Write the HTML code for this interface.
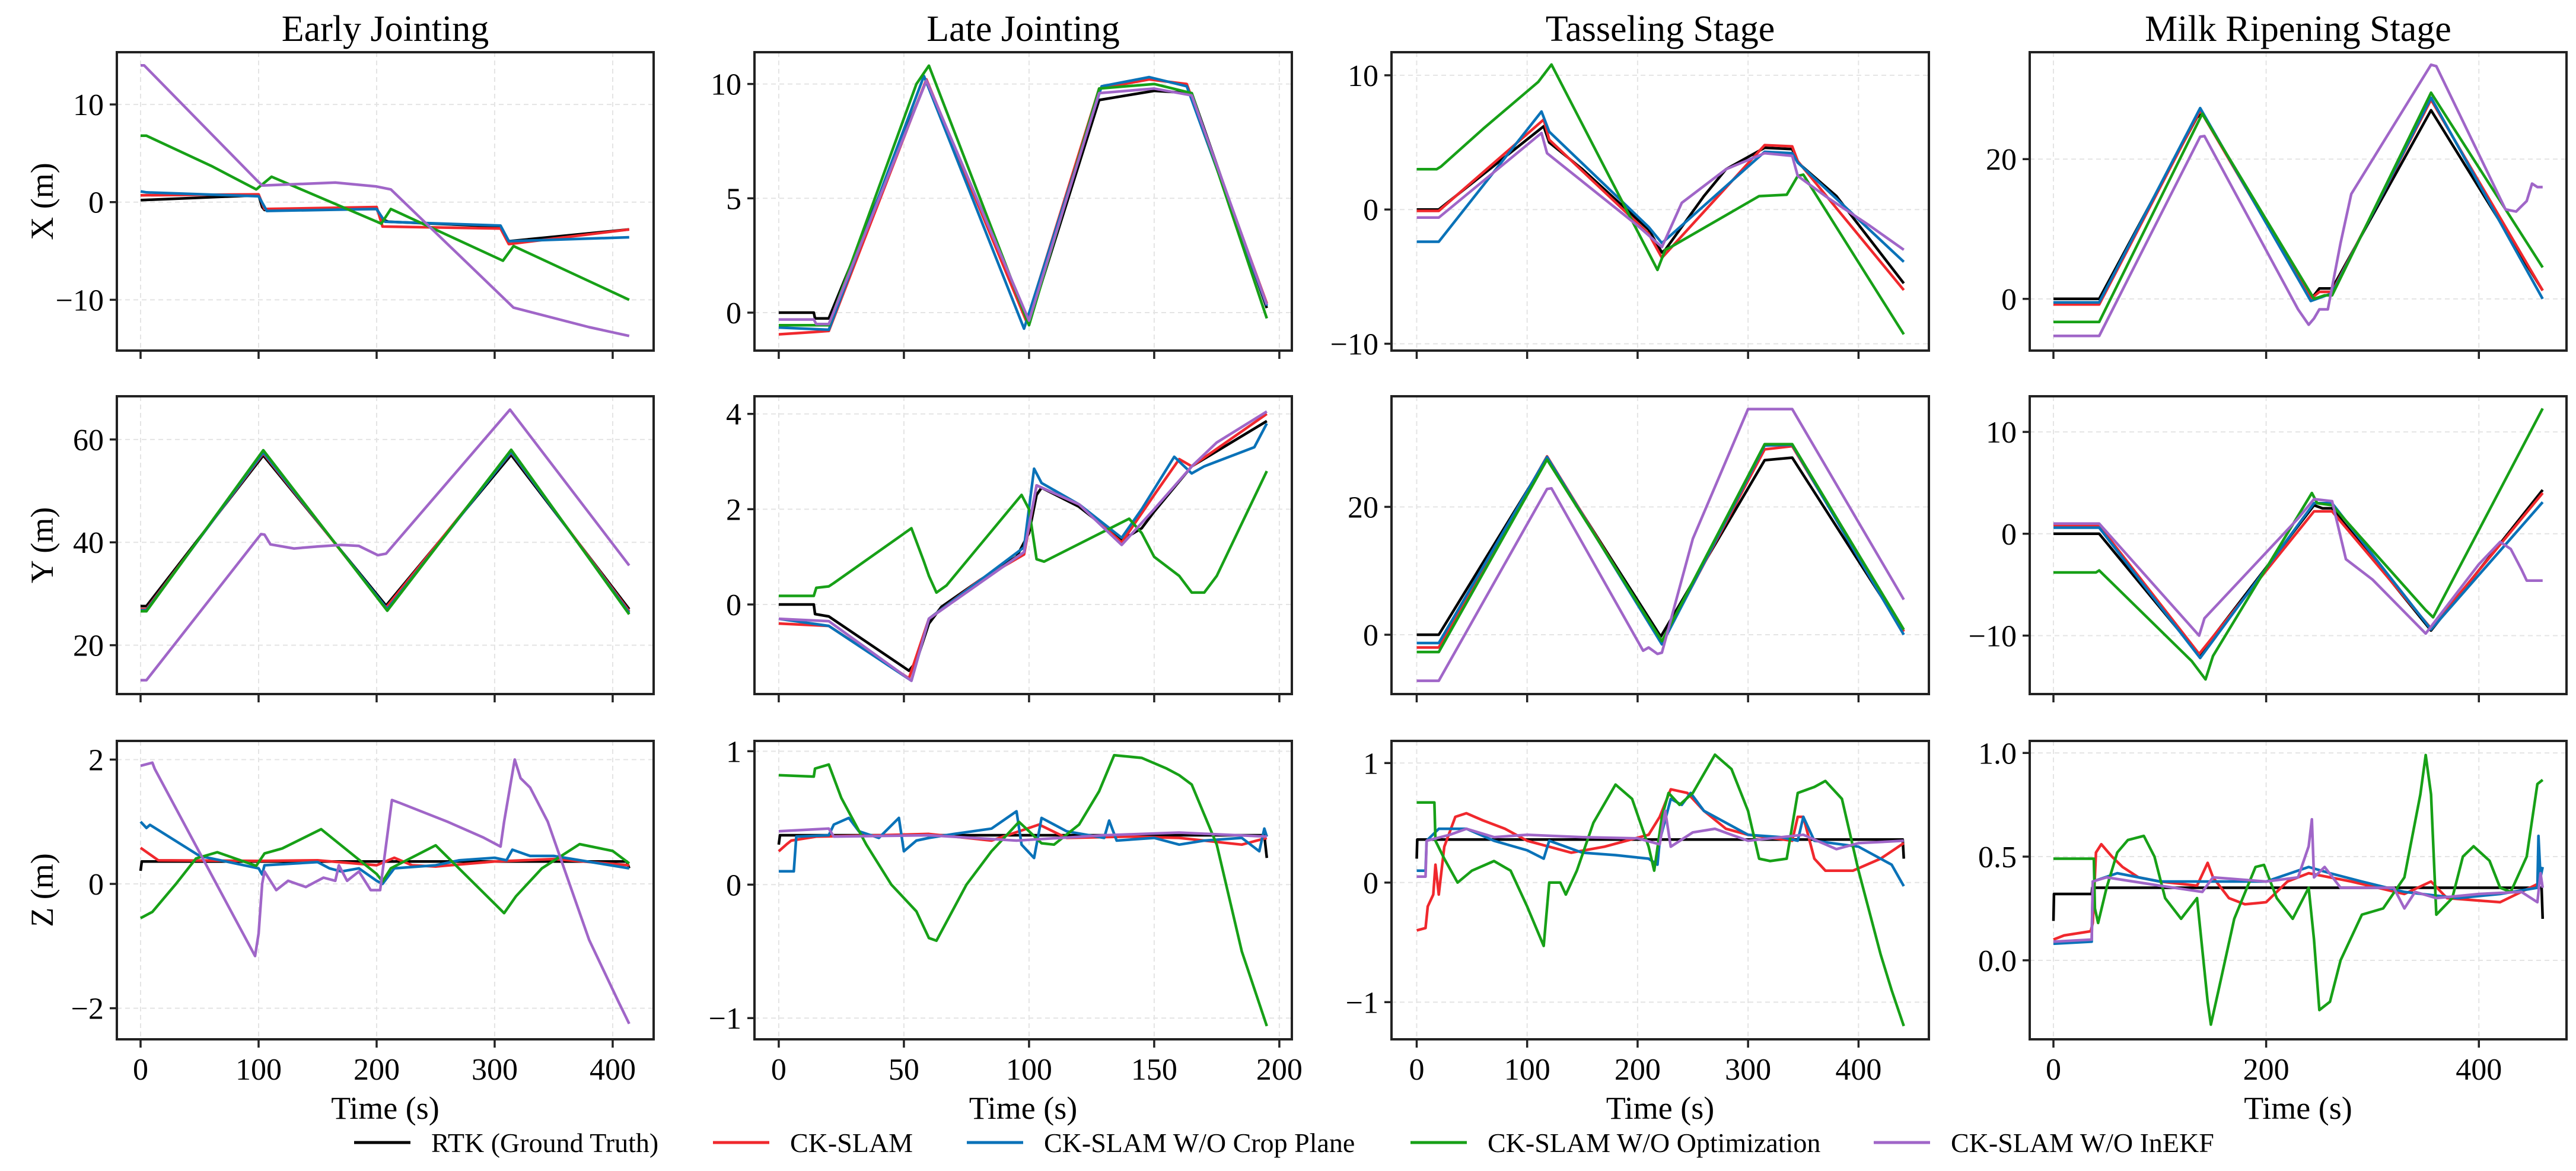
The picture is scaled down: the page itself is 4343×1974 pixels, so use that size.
<!DOCTYPE html>
<html><head><meta charset="utf-8"><style>
html,body{margin:0;padding:0;background:#fff;}
svg{display:block;}
svg text{font-family:"Liberation Serif","DejaVu Serif",serif;}
</style></head><body>
<svg id="fig" width="4343" height="1974" viewBox="0 0 4343 1974" xmlns="http://www.w3.org/2000/svg" font-family="Liberation Serif, DejaVu Serif, serif"></svg>
<script>
// ---------- Early Jointing ----------
const ejX_rtk_t=[0,100,103,105,200,205,210,305,312,414];
const ejX_rtk_v=[0.2,0.7,-0.5,-0.8,-0.7,-1.8,-2.0,-2.5,-4.0,-2.8];
const ejX_red_t=[0,100,105,200,205,305,312,414];
const ejX_red_v=[0.7,0.8,-0.7,-0.5,-2.5,-2.7,-4.3,-2.8];
const ejX_blu_t=[0,5,100,107,200,207,305,312,414];
const ejX_blu_v=[1.1,1.0,0.6,-0.9,-0.7,-2.0,-2.4,-4.0,-3.6];
const ejX_grn_t=[0,5,60,98,111,204,212,307,316,414];
const ejX_grn_v=[6.8,6.8,3.7,1.3,2.6,-2.2,-0.7,-6.0,-4.5,-10.0];
const ejX_pur_t=[0,3,98,103,165,200,212,316,380,414];
const ejX_pur_v=[14.0,14.0,2.3,1.7,2.0,1.6,1.3,-10.8,-12.8,-13.7];

const ejY_rtk_t=[0,5,104,208,314,414];
const ejY_rtk_v=[27.6,27.6,56.9,27.7,57.0,27.0];
const ejY_red_t=[0,5,104,208,314,414];
const ejY_red_v=[27.0,27.0,57.3,27.3,57.5,26.6];
const ejY_blu_t=[0,5,104,209,314,414];
const ejY_blu_v=[26.8,26.8,57.5,27.0,57.6,26.3];
const ejY_grn_t=[0,5,104,209,314,414];
const ejY_grn_v=[26.6,26.6,57.9,26.7,58.0,26.0];
const ejY_pur_t=[0,5,102,105,110,130,150,170,185,201,208,313,414];
const ejY_pur_v=[13.2,13.2,41.6,41.5,39.6,38.8,39.2,39.5,39.3,37.5,37.8,65.8,35.5];

const ejZ_rtk_t=[0,1,412,414];
const ejZ_rtk_v=[0.21,0.36,0.36,0.25];
const ejZ_red_t=[0,15,100,150,200,215,230,250,300,350,414];
const ejZ_red_v=[0.58,0.38,0.37,0.38,0.3,0.42,0.3,0.28,0.36,0.4,0.3];
const ejZ_blu_t=[0,5,8,50,100,103,105,150,160,170,185,200,205,215,250,270,300,310,315,330,350,414];
const ejZ_blu_v=[1.0,0.9,0.95,0.45,0.25,0.15,0.3,0.35,0.25,0.2,0.25,0.05,0.0,0.25,0.3,0.38,0.42,0.38,0.55,0.45,0.45,0.25];
const ejZ_grn_t=[0,10,30,47,65,98,105,120,153,200,205,212,250,308,318,340,372,400,414];
const ejZ_grn_v=[-0.55,-0.45,0.0,0.41,0.51,0.29,0.49,0.57,0.88,0.16,0.04,0.25,0.62,-0.47,-0.2,0.25,0.64,0.53,0.33];
const ejZ_pur_t=[0,10,12,97,100,103,105,115,125,140,155,165,168,175,185,195,203,213,220,260,290,305,308,317,322,330,345,380,405,414];
const ejZ_pur_v=[1.9,1.95,1.85,-1.16,-0.8,0.0,0.2,-0.1,0.05,-0.05,0.1,0.05,0.3,0.05,0.2,-0.1,-0.1,1.35,1.3,1.0,0.75,0.6,1.0,2.0,1.7,1.55,1.0,-0.9,-1.9,-2.25];

// ---------- Late Jointing ----------
const ljX_rtk_t=[0,14,14.5,20,59,98,101,128,150,165,195];
const ljX_rtk_v=[0.0,0.0,-0.25,-0.25,10.15,-0.1,-0.1,9.3,9.7,9.6,0.2];
const ljX_red_t=[0,14,20,59,99,128,148,163,195];
const ljX_red_v=[-0.95,-0.85,-0.8,10.2,-0.4,9.8,10.2,10.0,0.4];
const ljX_blu_t=[0,20,58,98,129,148,163,195];
const ljX_blu_v=[-0.65,-0.75,10.35,-0.7,9.9,10.3,9.9,0.3];
const ljX_grn_t=[0,20,55,60,100,128,150,165,195];
const ljX_grn_v=[-0.55,-0.55,10.0,10.8,-0.55,9.8,10.0,9.6,-0.25];
const ljX_pur_t=[0,14,15,20,59,100,128,150,165,195];
const ljX_pur_v=[-0.3,-0.3,-0.5,-0.5,10.15,-0.35,9.6,9.8,9.5,0.35];

const ljY_rtk_t=[0,14,14.5,20,52,55,60,65,80,95,100,103,105,120,137,145,150,165,195];
const ljY_rtk_v=[0.0,0.0,-0.2,-0.25,-1.39,-1.2,-0.4,-0.05,0.5,1.0,1.5,2.3,2.45,2.05,1.35,1.6,1.95,2.9,3.85];
const ljY_red_t=[0,20,52,60,80,98,103,120,137,150,160,165,195];
const ljY_red_v=[-0.4,-0.45,-1.55,-0.3,0.5,1.05,2.5,2.1,1.3,2.3,3.05,2.9,4.0];
const ljY_blu_t=[0,20,53,60,98,102,105,120,137,145,158,165,170,190,195];
const ljY_blu_v=[-0.3,-0.45,-1.6,-0.3,1.2,2.85,2.55,2.1,1.4,2.0,3.1,2.75,2.9,3.3,3.8];
const ljY_grn_t=[0,14,15,20,22,53,58,60,63,67,97,100,103,106,140,145,150,160,165,170,175,195];
const ljY_grn_v=[0.18,0.18,0.35,0.38,0.45,1.6,0.9,0.6,0.25,0.4,2.3,2.0,0.95,0.9,1.8,1.5,1.0,0.6,0.25,0.25,0.6,2.8];
const ljY_pur_t=[0,20,53,60,98,103,120,137,150,165,175,195];
const ljY_pur_v=[-0.3,-0.35,-1.6,-0.3,1.1,2.5,2.1,1.25,2.0,2.9,3.4,4.05];

const ljZ_rtk_t=[0,0.5,194,195];
const ljZ_rtk_v=[0.3,0.37,0.37,0.2];
const ljZ_red_t=[0,3,5,15,40,60,85,104,115,140,160,185,195];
const ljZ_red_v=[0.25,0.3,0.33,0.36,0.37,0.38,0.33,0.45,0.35,0.36,0.35,0.3,0.35];
const ljZ_blu_t=[0,6,7,20,22,28,32,40,48,50,55,60,70,85,95,97,102,105,110,115,130,132,135,150,160,170,185,192,194,195];
const ljZ_blu_v=[0.1,0.1,0.36,0.37,0.45,0.5,0.4,0.35,0.5,0.25,0.33,0.35,0.38,0.42,0.55,0.3,0.2,0.5,0.45,0.4,0.35,0.48,0.33,0.35,0.3,0.33,0.35,0.25,0.42,0.36];
const ljZ_grn_t=[0,14,14.5,20,25,35,45,55,60,63,75,85,96,100,105,110,120,128,134,145,155,160,165,175,185,195];
const ljZ_grn_v=[0.82,0.81,0.87,0.9,0.65,0.3,0.0,-0.2,-0.4,-0.42,0.0,0.25,0.47,0.4,0.31,0.3,0.45,0.7,0.97,0.95,0.87,0.82,0.75,0.3,-0.5,-1.06];
const ljZ_pur_t=[0,20,22,60,95,130,160,195];
const ljZ_pur_v=[0.4,0.42,0.36,0.37,0.33,0.37,0.39,0.36];

// ---------- Tasseling Stage ----------
const tsX_rtk_t=[0,20,115,120,150,210,222,225,260,280,315,340,345,380,441];
const tsX_rtk_v=[0.0,0.0,6.2,5.0,3.0,-1.5,-3.2,-3.0,1.0,3.0,4.6,4.5,3.5,1.0,-5.5];
const tsX_red_t=[0,20,115,120,210,222,315,340,345,441];
const tsX_red_v=[-0.1,-0.1,6.7,5.2,-1.8,-3.6,4.8,4.7,3.6,-6.0];
const tsX_blu_t=[0,20,113,120,210,222,315,340,345,441];
const tsX_blu_v=[-2.4,-2.4,7.3,5.8,-1.3,-2.5,4.3,4.2,3.5,-3.9];
const tsX_grn_t=[0,18,22,60,110,122,218,225,230,310,335,345,350,441];
const tsX_grn_v=[3.0,3.0,3.2,6.0,9.5,10.8,-4.5,-3.0,-2.8,1.0,1.1,2.5,2.6,-9.3];
const tsX_pur_t=[0,20,113,118,200,222,240,280,315,340,345,370,410,441];
const tsX_pur_v=[-0.6,-0.6,5.7,4.2,-1.2,-2.8,0.5,3.0,4.2,4.0,2.5,1.0,-1.2,-3.0];

const tsY_rtk_t=[0,20,118,221,315,340,441];
const tsY_rtk_v=[0.0,0.0,27.6,-0.3,27.3,27.7,0.5];
const tsY_red_t=[0,20,118,222,315,340,441];
const tsY_red_v=[-2.0,-2.0,27.9,-1.3,29.0,29.5,0.5];
const tsY_blu_t=[0,20,118,222,315,340,441];
const tsY_blu_v=[-1.3,-1.3,27.8,-1.5,29.6,29.7,0.0];
const tsY_grn_t=[0,20,118,222,315,340,441];
const tsY_grn_v=[-2.7,-2.7,27.4,-1.0,29.8,29.8,0.8];
const tsY_pur_t=[0,20,118,122,205,210,218,222,250,300,340,441];
const tsY_pur_v=[-7.2,-7.2,22.8,22.9,-2.5,-2.0,-3.0,-2.8,15.0,35.3,35.3,5.5];

const tsZ_rtk_t=[0,0.5,440,441];
const tsZ_rtk_v=[0.2,0.36,0.36,0.2];
const tsZ_red_t=[0,8,10,15,17,20,25,35,45,60,80,100,140,170,210,220,230,245,260,280,300,340,345,350,360,370,395,420,441];
const tsZ_red_v=[-0.4,-0.38,-0.2,-0.1,0.15,-0.1,0.3,0.55,0.58,0.52,0.45,0.35,0.25,0.3,0.4,0.55,0.78,0.75,0.6,0.45,0.4,0.35,0.55,0.55,0.2,0.1,0.1,0.2,0.33];
const tsZ_blu_t=[0,8,9,20,45,70,100,115,120,150,180,210,218,220,230,240,248,260,300,330,345,350,360,400,430,441];
const tsZ_blu_v=[0.1,0.1,0.35,0.45,0.45,0.35,0.27,0.2,0.35,0.25,0.23,0.2,0.15,0.35,0.7,0.65,0.75,0.6,0.4,0.38,0.35,0.55,0.35,0.3,0.15,-0.03];
const tsZ_grn_t=[0,16,17,25,37,50,70,85,100,115,120,130,135,145,160,180,195,210,215,222,228,238,250,270,285,300,310,320,335,345,360,370,385,400,420,430,441];
const tsZ_grn_v=[0.67,0.67,0.35,0.2,0.0,0.1,0.18,0.1,-0.2,-0.53,0.0,0.0,-0.1,0.1,0.5,0.82,0.7,0.3,0.1,0.55,0.75,0.65,0.75,1.07,0.95,0.6,0.2,0.18,0.2,0.75,0.8,0.85,0.7,0.1,-0.6,-0.9,-1.2];
const tsZ_pur_t=[0,8,9,30,45,70,100,150,200,220,225,230,250,270,300,350,380,400,441];
const tsZ_pur_v=[0.05,0.05,0.35,0.4,0.45,0.38,0.4,0.38,0.37,0.32,0.6,0.3,0.42,0.45,0.35,0.4,0.28,0.33,0.35];

// ---------- Milk Ripening Stage ----------
const mrX_rtk_t=[0,43,135,140,242,245,250,262,355,460];
const mrX_rtk_v=[0.0,0.0,26.0,26.5,0.2,0.5,1.5,1.5,27.0,1.2];
const mrX_red_t=[0,43,138,242,250,262,355,460];
const mrX_red_v=[-0.8,-0.8,27.0,0.0,1.0,1.0,28.5,1.2];
const mrX_blu_t=[0,43,138,242,262,355,460];
const mrX_blu_v=[-0.5,-0.5,27.3,-0.3,0.8,28.8,0.0];
const mrX_grn_t=[0,43,140,245,255,262,355,460];
const mrX_grn_v=[-3.3,-3.3,26.5,0.0,0.5,0.5,29.5,4.5];
const mrX_pur_t=[0,43,138,142,230,240,245,250,258,270,280,355,360,425,435,445,450,455,460];
const mrX_pur_v=[-5.3,-5.3,23.2,23.3,-1.5,-3.7,-2.8,-1.5,-1.5,8.0,15.0,33.5,33.3,12.8,12.5,14.0,16.5,16.0,16.0];

const mrY_rtk_t=[0,43,137,245,253,262,355,460];
const mrY_rtk_v=[0.0,0.0,-11.9,2.8,2.5,2.5,-9.5,4.3];
const mrY_red_t=[0,43,137,245,262,355,460];
const mrY_red_v=[0.8,0.8,-11.8,2.2,2.2,-9.3,4.0];
const mrY_blu_t=[0,43,138,245,262,355,460];
const mrY_blu_v=[0.6,0.6,-12.2,3.0,3.0,-9.4,3.1];
const mrY_grn_t=[0,40,43,130,143,150,243,248,262,350,357,460];
const mrY_grn_v=[-3.8,-3.8,-3.6,-12.5,-14.3,-12.0,4.0,3.0,2.8,-7.5,-8.2,12.3];
const mrY_pur_t=[0,43,137,142,230,245,262,275,300,350,400,420,430,440,445,460];
const mrY_pur_v=[1.0,1.0,-10.0,-8.3,1.5,3.4,3.2,-2.5,-4.5,-9.8,-3.0,-0.8,-1.5,-3.5,-4.6,-4.6];

const mrZ_rtk_t=[0,0.5,36,36.5,459,460];
const mrZ_rtk_v=[0.19,0.32,0.32,0.35,0.35,0.2];
const mrZ_red_t=[0,10,35,37,40,45,55,65,80,100,135,145,150,165,180,200,220,240,280,330,355,370,420,460];
const mrZ_red_v=[0.1,0.12,0.14,0.18,0.52,0.56,0.5,0.45,0.4,0.38,0.36,0.47,0.4,0.3,0.27,0.28,0.38,0.42,0.38,0.32,0.38,0.3,0.28,0.38];
const mrZ_blu_t=[0,36,37,60,100,140,200,240,260,290,330,380,420,455,456,458,460];
const mrZ_blu_v=[0.08,0.09,0.38,0.42,0.38,0.38,0.38,0.45,0.42,0.38,0.33,0.3,0.32,0.35,0.6,0.4,0.45];
const mrZ_grn_t=[0,38,39,42,50,60,70,85,95,105,120,135,145,148,155,170,190,198,210,225,240,245,250,260,270,290,310,330,345,350,355,360,375,385,395,410,420,430,445,455,460];
const mrZ_grn_v=[0.49,0.49,0.25,0.18,0.35,0.52,0.58,0.6,0.5,0.3,0.2,0.3,-0.2,-0.31,-0.15,0.2,0.45,0.46,0.3,0.2,0.35,0.1,-0.24,-0.2,0.0,0.22,0.25,0.4,0.8,0.99,0.8,0.22,0.3,0.5,0.55,0.48,0.35,0.33,0.5,0.85,0.87];
const mrZ_pur_t=[0,36,37,50,100,140,150,200,230,240,243,245,255,270,320,330,340,360,400,440,455,458,460];
const mrZ_pur_v=[0.09,0.1,0.38,0.4,0.36,0.33,0.4,0.38,0.4,0.55,0.68,0.4,0.45,0.35,0.35,0.25,0.33,0.3,0.32,0.33,0.28,0.42,0.35];

// ---------- tick labels ----------
const colTitles=["Early Jointing","Late Jointing","Tasseling Stage","Milk Ripening Stage"];
const rowLabels=["X (m)","Y (m)","Z (m)"];
const xTicks=[[0,100,200,300,400],[0,50,100,150,200],[0,100,200,300,400],[0,200,400]];
const yTicks=[
 [[10,0,-10],[60,40,20],[2,0,-2]],
 [[10,5,0],[4,2,0],[1,0,-1]],
 [[10,0,-10],[20,0],[1,0,-1]],
 [[20,0],[10,0,-10],[1.0,0.5,0.0]]
];
const legendLabels=["RTK (Ground Truth)","CK-SLAM","CK-SLAM W/O Crop Plane","CK-SLAM W/O Optimization","CK-SLAM W/O InEKF"];

// ---------- layout (not data) ----------
const colBox=[[197,1102],[1272,2178],[2346,3252],[3422,4327]];
const rowBox=[[88,591],[668,1170],[1249,1752]];
const xLim=[[-20.1,434.7],[-9.7,205],[-22.8,463.7],[-22.3,482.4]];
const yLim=[
 [[-15.2,15.35],[10.5,68.4],[-2.5,2.3]],
 [[-1.66,11.39],[-1.88,4.37],[-1.159,1.077]],
 [[-10.51,11.72],[-9.28,37.3],[-1.311,1.185]],
 [[-7.4,35.3],[-15.74,13.5],[-0.381,1.058]]
];
const colors=["#000000","#f0282d","#0a72b8","#17a017","#a066c8"];
const seriesNames=["rtk","ck-slam","no-crop-plane","no-optimization","no-inekf"];
const panelData={
 ejX:[[ejX_rtk_t,ejX_rtk_v],[ejX_red_t,ejX_red_v],[ejX_blu_t,ejX_blu_v],[ejX_grn_t,ejX_grn_v],[ejX_pur_t,ejX_pur_v]],
 ejY:[[ejY_rtk_t,ejY_rtk_v],[ejY_red_t,ejY_red_v],[ejY_blu_t,ejY_blu_v],[ejY_grn_t,ejY_grn_v],[ejY_pur_t,ejY_pur_v]],
 ejZ:[[ejZ_rtk_t,ejZ_rtk_v],[ejZ_red_t,ejZ_red_v],[ejZ_blu_t,ejZ_blu_v],[ejZ_grn_t,ejZ_grn_v],[ejZ_pur_t,ejZ_pur_v]],
 ljX:[[ljX_rtk_t,ljX_rtk_v],[ljX_red_t,ljX_red_v],[ljX_blu_t,ljX_blu_v],[ljX_grn_t,ljX_grn_v],[ljX_pur_t,ljX_pur_v]],
 ljY:[[ljY_rtk_t,ljY_rtk_v],[ljY_red_t,ljY_red_v],[ljY_blu_t,ljY_blu_v],[ljY_grn_t,ljY_grn_v],[ljY_pur_t,ljY_pur_v]],
 ljZ:[[ljZ_rtk_t,ljZ_rtk_v],[ljZ_red_t,ljZ_red_v],[ljZ_blu_t,ljZ_blu_v],[ljZ_grn_t,ljZ_grn_v],[ljZ_pur_t,ljZ_pur_v]],
 tsX:[[tsX_rtk_t,tsX_rtk_v],[tsX_red_t,tsX_red_v],[tsX_blu_t,tsX_blu_v],[tsX_grn_t,tsX_grn_v],[tsX_pur_t,tsX_pur_v]],
 tsY:[[tsY_rtk_t,tsY_rtk_v],[tsY_red_t,tsY_red_v],[tsY_blu_t,tsY_blu_v],[tsY_grn_t,tsY_grn_v],[tsY_pur_t,tsY_pur_v]],
 tsZ:[[tsZ_rtk_t,tsZ_rtk_v],[tsZ_red_t,tsZ_red_v],[tsZ_blu_t,tsZ_blu_v],[tsZ_grn_t,tsZ_grn_v],[tsZ_pur_t,tsZ_pur_v]],
 mrX:[[mrX_rtk_t,mrX_rtk_v],[mrX_red_t,mrX_red_v],[mrX_blu_t,mrX_blu_v],[mrX_grn_t,mrX_grn_v],[mrX_pur_t,mrX_pur_v]],
 mrY:[[mrY_rtk_t,mrY_rtk_v],[mrY_red_t,mrY_red_v],[mrY_blu_t,mrY_blu_v],[mrY_grn_t,mrY_grn_v],[mrY_pur_t,mrY_pur_v]],
 mrZ:[[mrZ_rtk_t,mrZ_rtk_v],[mrZ_red_t,mrZ_red_v],[mrZ_blu_t,mrZ_blu_v],[mrZ_grn_t,mrZ_grn_v],[mrZ_pur_t,mrZ_pur_v]]
};
const colKeys=["ej","lj","ts","mr"];
const rowKeys=["X","Y","Z"];
const SERIF="Liberation Serif, DejaVu Serif, serif";

const NS="http://www.w3.org/2000/svg";
const svg=document.getElementById("fig");
function mk(tag,parent){const e=document.createElementNS(NS,tag);parent.appendChild(e);if(tag==="text"){e.setAttribute("font-family",SERIF);}return e;}
function fmt(v,ticks){
  const dec=ticks.some(t=>!Number.isInteger(t));
  let s=dec?v.toFixed(1):String(v);
  return s.replace("-","\u2212");
}

for(let c=0;c<4;c++){
  const [x0,x1]=colBox[c];
  const xs=v=>x0+(v-xLim[c][0])/(xLim[c][1]-xLim[c][0])*(x1-x0);
  const title=mk("text",svg);
  
  
  title.setAttribute("x",(x0+x1)/2);title.setAttribute("y",69);
  title.setAttribute("text-anchor","middle");title.setAttribute("font-size","62");
  title.textContent=colTitles[c];
  for(let r=0;r<3;r++){
    const [y0,y1]=rowBox[r];
    const yl=yLim[c][r];
    const ys=v=>y1-(v-yl[0])/(yl[1]-yl[0])*(y1-y0);
    const g=mk("g",svg);
    
    
    const clipId="clip"+c+r;
    const cp=mk("clipPath",g);cp.setAttribute("id",clipId);
    const cr=mk("rect",cp);cr.setAttribute("x",x0);cr.setAttribute("y",y0);cr.setAttribute("width",x1-x0);cr.setAttribute("height",y1-y0);
    for(const t of xTicks[c]){
      const l=mk("line",g);
      
      
      l.setAttribute("x1",xs(t));l.setAttribute("x2",xs(t));l.setAttribute("y1",y0);l.setAttribute("y2",y1);
      l.setAttribute("stroke","#e4e4e4");l.setAttribute("stroke-width","2");l.setAttribute("stroke-dasharray","8,6");
      const tk=mk("line",g);
      
      
      tk.setAttribute("x1",xs(t));tk.setAttribute("x2",xs(t));tk.setAttribute("y1",y1);tk.setAttribute("y2",y1+14);
      tk.setAttribute("stroke","#222");tk.setAttribute("stroke-width","3.5");
      if(r===2){
        const tl=mk("text",g);
        
        
        tl.setAttribute("x",xs(t));tl.setAttribute("y",y1+68);tl.setAttribute("text-anchor","middle");tl.setAttribute("font-size","52");
        tl.textContent=fmt(t,xTicks[c]);
      }
    }
    for(const t of yTicks[c][r]){
      const l=mk("line",g);
      
      
      l.setAttribute("x1",x0);l.setAttribute("x2",x1);l.setAttribute("y1",ys(t));l.setAttribute("y2",ys(t));
      l.setAttribute("stroke","#e4e4e4");l.setAttribute("stroke-width","2");l.setAttribute("stroke-dasharray","8,6");
      const tk=mk("line",g);
      
      
      tk.setAttribute("x1",x0-12);tk.setAttribute("x2",x0);tk.setAttribute("y1",ys(t));tk.setAttribute("y2",ys(t));
      tk.setAttribute("stroke","#222");tk.setAttribute("stroke-width","3.5");
      const tl=mk("text",g);
      
      
      tl.setAttribute("x",x0-22);tl.setAttribute("y",ys(t)+18);tl.setAttribute("text-anchor","end");tl.setAttribute("font-size","52");
      tl.textContent=fmt(t,yTicks[c][r]);
    }
    const data=panelData[colKeys[c]+rowKeys[r]];
    const lg=mk("g",g);lg.setAttribute("clip-path","url(#"+clipId+")");
    for(let s=0;s<5;s++){
      const [ts,vs]=data[s];
      const pts=ts.map((t,i)=>xs(t).toFixed(1)+","+ys(vs[i]).toFixed(1)).join(" ");
      const pl=mk("polyline",lg);
      
      
      pl.setAttribute("points",pts);pl.setAttribute("fill","none");
      pl.setAttribute("stroke",colors[s]);pl.setAttribute("stroke-width","4.5");pl.setAttribute("stroke-linejoin","round");
    }
    const fr=mk("rect",g);
    
    
    fr.setAttribute("x",x0);fr.setAttribute("y",y0);fr.setAttribute("width",x1-x0);fr.setAttribute("height",y1-y0);
    fr.setAttribute("fill","none");fr.setAttribute("stroke","#222");fr.setAttribute("stroke-width","4");
    if(c===0){
      const yl2=mk("text",g);
      
      
      const cy=(y0+y1)/2;
      yl2.setAttribute("transform","translate(89,"+cy+") rotate(-90)");
      yl2.setAttribute("text-anchor","middle");yl2.setAttribute("font-size","54");
      yl2.textContent=rowLabels[r];
    }
    if(r===2){
      const xt=mk("text",g);
      
      
      xt.setAttribute("x",(x0+x1)/2);xt.setAttribute("y",1886);xt.setAttribute("text-anchor","middle");xt.setAttribute("font-size","54");
      xt.textContent="Time (s)";
    }
  }
}
const legX=[597,1202,1630,2378,3159];
const leg=mk("g",svg);


for(let s=0;s<5;s++){
  const e=mk("g",leg);
  
  
  const l=mk("line",e);
  l.setAttribute("x1",legX[s]);l.setAttribute("x2",legX[s]+95);l.setAttribute("y1",1926);l.setAttribute("y2",1926);
  l.setAttribute("stroke",colors[s]);l.setAttribute("stroke-width","5");
  const t=mk("text",e);
  t.setAttribute("x",legX[s]+130);t.setAttribute("y",1942);t.setAttribute("font-size","46");
  t.textContent=legendLabels[s];
}
</script>
</body></html>
